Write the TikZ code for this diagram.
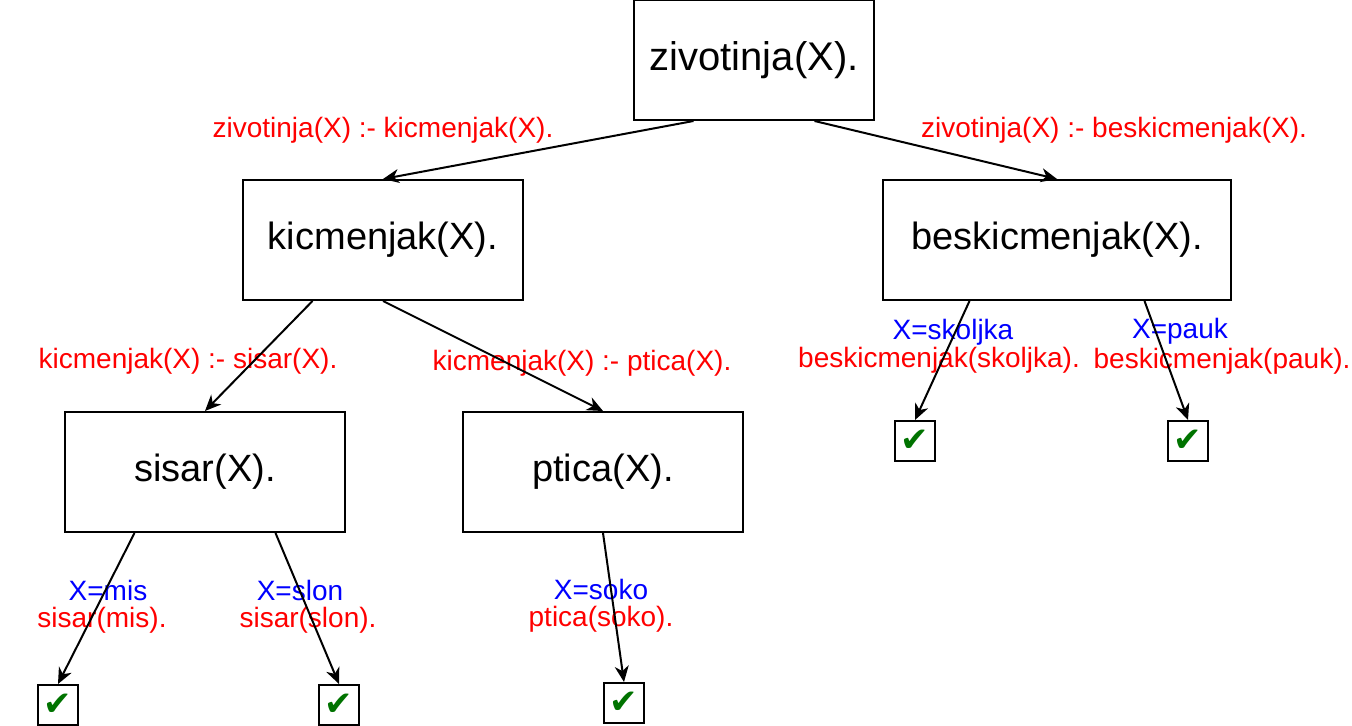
\documentclass[tikz,border=0pt]{standalone}
\usepackage{fontspec}
\setmainfont{Liberation Sans}
\newfontfamily\checkfont{DejaVu Sans}
\usetikzlibrary{arrows.meta,calc}

\tikzset{
    goal/.style={draw, line width=1pt, minimum height=60pt, inner sep=0pt,
        font=\fontsize{19}{23}\selectfont},
    done/.style={draw, line width=1pt, minimum width=20pt, minimum height=20pt,
        inner sep=0pt, text=green!45!black, font=\checkfont\fontsize{17}{17}\selectfont},
    rule/.style={text=red, anchor=base, inner sep=0pt,
        font=\fontsize{14}{14}\selectfont},
    bind/.style={rule, text=blue},
    edge/.style={line width=1pt, -{Stealth[length=8pt,width=7pt,inset=2.5pt]}},
}

\begin{document}
\begin{tikzpicture}[x=0.5pt, y=-0.5pt]
    \useasboundingbox (0,0) rectangle (1352,726);

    % Goals
    \node[goal, minimum width=120pt, font=\fontsize{20}{24}\selectfont] (zivotinja) at (754, 60) {zivotinja(X).};
    \node[goal, minimum width=140pt] (kicmenjak) at (383, 240) {kicmenjak(X).};
    \node[goal, minimum width=174pt] (beskicmenjak) at (1057, 240) {beskicmenjak(X).};
    \node[goal, minimum width=140pt] (sisar) at (205, 472) {sisar(X).};
    \node[goal, minimum width=140pt] (ptica) at (603, 472) {ptica(X).};

    % Solutions
    \node[done] (mis) at (58, 705) {✔};
    \node[done] (slon) at (339, 705) {✔};
    \node[done] (soko) at (624, 703) {✔};
    \node[done] (skoljka) at (915, 441) {✔};
    \node[done] (pauk) at (1188, 441) {✔};

    % Rules
    \node[rule] (r1) at (383, 138) {zivotinja(X) :- kicmenjak(X).};
    \node[rule] (r2) at (1114, 138) {zivotinja(X) :- beskicmenjak(X).};
    \node[rule] (r3) at (188, 369) {kicmenjak(X) :- sisar(X).};
    \node[rule] (r4) at (582, 371) {kicmenjak(X) :- ptica(X).};

    % Facts
    \node[bind] (misval) at (108, 600) {X=mis};
    \node[rule] (misfact) at (102, 627) {sisar(mis).};
    \node[bind] (slonval) at (300, 600) {X=slon};
    \node[rule] (slonfact) at (308, 627) {sisar(slon).};
    \node[bind] (sokoval) at (601, 599) {X=soko};
    \node[rule] (sokofact) at (601, 626) {ptica(soko).};
    \node[bind] (skoljkaval) at (953, 340) {X=skoljka};
    \node[rule] (skoljkafact) at (939, 368) {beskicmenjak(skoljka).};
    \node[bind] (paukval) at (1180, 339) {X=pauk};
    \node[rule] (paukfact) at (1222, 369) {beskicmenjak(pauk).};

    % Connectors
    \draw[edge] ($(zivotinja.south west)!0.25!(zivotinja.south east)$) -- (kicmenjak.north);
    \draw[edge] ($(zivotinja.south west)!0.75!(zivotinja.south east)$) -- (beskicmenjak.north);
    \draw[edge] ($(kicmenjak.south west)!0.25!(kicmenjak.south east)$) -- (sisar.north);
    \draw[edge] (kicmenjak.south) -- (ptica.north);
    \draw[edge] ($(sisar.south west)!0.25!(sisar.south east)$) -- (mis.north);
    \draw[edge] ($(sisar.south west)!0.75!(sisar.south east)$) -- (slon.north);
    \draw[edge] (ptica.south) -- (soko.north);
    \draw[edge] ($(beskicmenjak.south west)!0.25!(beskicmenjak.south east)$) -- (skoljka.north);
    \draw[edge] ($(beskicmenjak.south west)!0.75!(beskicmenjak.south east)$) -- (pauk.north);
\end{tikzpicture}
\end{document}
